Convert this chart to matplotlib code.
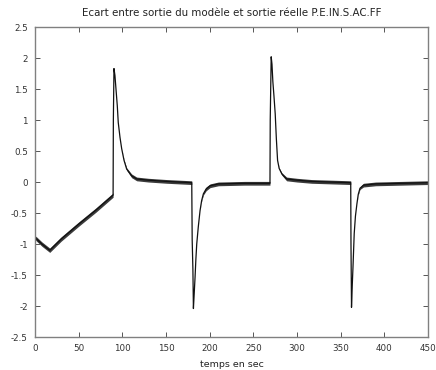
import matplotlib
matplotlib.use("Agg")
import matplotlib.pyplot as plt
import numpy as np

# key points (time in s, deviation)
t_pts = [0, 0.5, 2, 8, 17, 30, 50, 70, 89.5,
         89.8, 90.5, 91.6, 92.8, 94.3, 95.4, 97.4, 99.3, 102, 105, 110.7, 116.5, 130, 151, 179.5,
         180.0, 180.8, 181.4, 182.3, 183.3, 184.2, 185.2, 187, 189, 190.8, 192.8, 196, 200.5, 210, 240, 269.0,
         269.3, 270.4, 271.3, 272.3, 273.5, 275, 276.3, 277.7, 279.5, 282.6, 288, 300, 316.7, 361.4,
         361.7, 362.3, 363.2, 364, 365.4, 366.8, 368.5, 370, 372, 376, 390, 420, 450]
v_pts = [0.0, -0.90, -0.92, -1.00, -1.10, -0.92, -0.68, -0.45, -0.21,
         1.0, 1.83, 1.72, 1.50, 1.23, 0.96, 0.72, 0.54, 0.35, 0.21, 0.10, 0.05, 0.03, 0.01, -0.01,
         -0.94, -1.40, -2.04, -1.80, -1.53, -1.25, -1.00, -0.72, -0.46, -0.30, -0.19, -0.11, -0.06, -0.03, -0.02, -0.02,
         1.0, 2.02, 1.90, 1.62, 1.40, 1.10, 0.70, 0.35, 0.22, 0.13, 0.05, 0.03, 0.01, -0.01,
         -1.0, -2.02, -1.65, -1.37, -0.83, -0.55, -0.35, -0.20, -0.10, -0.05, -0.03, -0.02, -0.01]
# half width of the noise band seen around the curve
w_pts = [0.0, 0.03, 0.035, 0.035, 0.035, 0.035, 0.035, 0.035, 0.035,
         0.0, 0.0, 0.0, 0.0, 0.0, 0.0, 0.0, 0.0, 0.01, 0.02, 0.03, 0.03, 0.03, 0.03, 0.03,
         0.0, 0.0, 0.0, 0.0, 0.0, 0.0, 0.0, 0.0, 0.0, 0.01, 0.02, 0.03, 0.03, 0.03, 0.03, 0.03,
         0.0, 0.0, 0.0, 0.0, 0.0, 0.0, 0.0, 0.0, 0.01, 0.02, 0.03, 0.03, 0.03, 0.03,
         0.0, 0.0, 0.0, 0.0, 0.0, 0.0, 0.0, 0.01, 0.02, 0.03, 0.03, 0.03, 0.03]

x_ticks = [0, 50, 100, 150, 200, 250, 300, 350, 400, 450]
y_ticks = [-2.5, -2, -1.5, -1, -0.5, 0, 0.5, 1, 1.5, 2, 2.5]

plt.rcParams['font.family'] = ['DejaVu Sans']

fig = plt.figure(figsize=(4.36, 3.70), dpi=100)
ax = fig.add_axes([0.080, 0.089, 0.902, 0.838])

t = np.array(t_pts)
v = np.array(v_pts)
w = np.array(w_pts)
ax.fill_between(t, v - w, v + w, color='#1a1a1a', lw=0, alpha=0.85)
ax.plot(t, v, color='#111111', lw=0.9)

ax.set_xlim(0, 450)
ax.set_ylim(-2.5, 2.5)
ax.set_xticks(x_ticks)
ax.set_yticks(y_ticks)
ax.set_xticklabels([str(x) for x in x_ticks])
ax.set_yticklabels(['%g' % y for y in y_ticks])
ax.tick_params(direction='in', length=3.5, width=0.7, color='#555555', labelsize=6.3,
               labelcolor='#333333', top=True, right=True, pad=5)
for s in ax.spines.values():
    s.set_color('#808080')
    s.set_linewidth(1.0)

ax.set_title('Ecart entre sortie du modèle et sortie réelle P.E.IN.S.AC.FF', fontsize=7.4,
             color='#222222', pad=8)
ax.set_xlabel('temps en sec', fontsize=6.8, color='#222222', labelpad=5)

fig.savefig('out.png', dpi=100)
